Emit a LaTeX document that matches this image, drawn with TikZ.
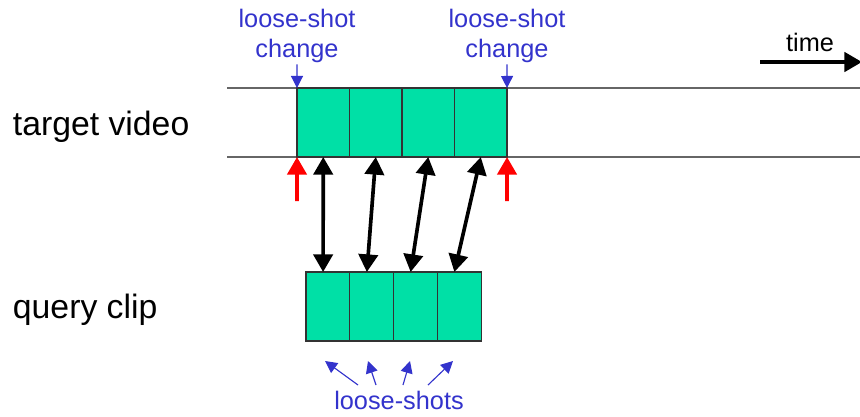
\documentclass[tikz,border=0pt]{standalone}
\usepackage{fontspec}
\setmainfont{Liberation Sans}
\usetikzlibrary{arrows.meta, positioning}
\definecolor{shotgreen}{RGB}{0,224,166}
\definecolor{markblue}{RGB}{51,51,204}

\begin{document}
\begin{tikzpicture}[x=0.025cm, y=-0.025cm,
        cell/.style={rectangle, draw=black!80, thick, fill=shotgreen,
                     inner sep=0pt, outer sep=0pt, minimum height=1.725cm},
        tcell/.style={cell, minimum width=1.3125cm},
        qcell/.style={cell, minimum width=1.09375cm},
        lab/.style={font=\fontsize{24}{28}\selectfont, anchor=west},
        note/.style={font=\fontsize{18}{21}\selectfont, text=markblue,
                     align=center, inner sep=1pt},
        rail/.style={draw=black!60, line width=0.9pt},
        match/.style={{Triangle[length=4.4mm,width=4.8mm]}-{Triangle[length=4.4mm,width=4.8mm]},
                      line width=2.6pt},
        cut/.style={-{Triangle[length=4.4mm,width=4.8mm]}, line width=2.6pt, red},
        flow/.style={-{Triangle[length=4.4mm,width=4.8mm]}, line width=2.8pt},
        pt/.style={-{Triangle[length=3mm,width=3mm]}, markblue, line width=0.8pt},
        node distance=0pt]
      \useasboundingbox (0,0) rectangle (860,416);
      % timeline rails
      \coordinate (ua) at (227,88);  \coordinate (ub) at (860,88);
      \coordinate (da) at (227,157); \coordinate (db) at (860,157);
      \draw[rail] (ua) -- (ub);
      \draw[rail] (da) -- (db);
      % shots of the target video
      \node[tcell] (t1) at (323.25,122.5) {};
      \node[tcell, right=of t1] (t2) {};
      \node[tcell, right=of t2] (t3) {};
      \node[tcell, right=of t3] (t4) {};
      % shots of the query clip
      \node[qcell] (q1) at (327.9,306.5) {};
      \node[qcell, right=of q1] (q2) {};
      \node[qcell, right=of q2] (q3) {};
      \node[qcell, right=of q3] (q4) {};
      \node[lab] (tv) at (8,127) {target video};
      \node[lab] (qc) at (8,310) {query clip};
      % matching shots
      \foreach \i in {1,...,4}
        \draw[match] (t\i.south) -- ([xshift=-0.12cm]q\i.north);
      % detected shot boundaries
      \coordinate (r1) at (297,201);
      \coordinate (r2) at (507,201);
      \draw[cut] (r1) -- (t1.south west);
      \draw[cut] (r2) -- (t4.south east);
      \node[note] (c1) at (297,36) {loose-shot\\change};
      \node[note] (c2) at (507,36) {loose-shot\\change};
      \draw[pt] (c1.south) -- (t1.north west);
      \draw[pt] (c2.south) -- (t4.north east);
      % time axis
      \node[font=\fontsize{18}{21}\selectfont] (tm) at (810,42) {time};
      \coordinate (ta) at (760,62);
      \coordinate (tb) at (862,62);
      \draw[flow] (ta) -- (tb);
      % loose-shots pointers
      \node[note] (ls) at (399,400) {loose-shots};
      \foreach \i/\sx/\ex in {1/358/325, 2/376/368, 3/403/410, 4/428/453} {
        \coordinate (s\i) at (\sx,385);
        \coordinate (e\i) at (\ex,361);
        \draw[pt] (s\i) -- (e\i);
      }
    \end{tikzpicture}
\end{document}
